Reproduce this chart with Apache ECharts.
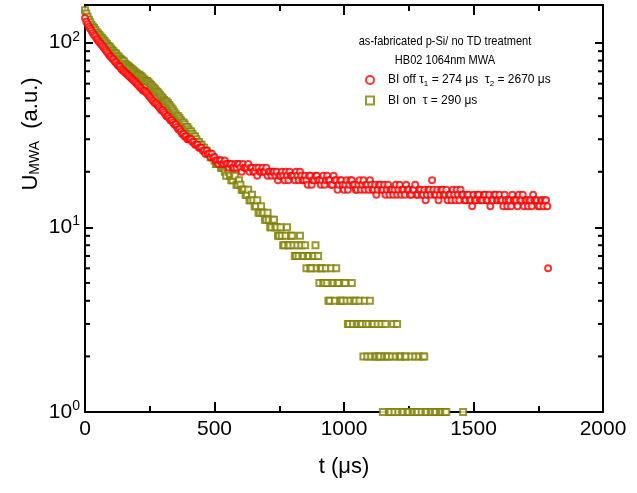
<!DOCTYPE html>
<html>
<head>
<meta charset="utf-8">
<script src="https://cdn.jsdelivr.net/npm/echarts/dist/echarts.min.js"></script>
<style>
html,body{margin:0;padding:0;background:#fff;}
#chart{width:637px;height:493px;}
</style>
</head>
<body>
<div id="chart"></div>
<script>
// ---- data ----
const tStep = 10;   // μs between samples within one array
const tOffsetB = 5; // the "B" arrays are the interleaved samples at t = 5 + i*tStep
// BI on (olive squares), sample i at t = i*tStep
const biOnValues = [
150,138,129,122,117,112,108,104,100,96,
93,90,87,84,81,79,76,74,72,70,
68,67,65,63,62,60,58,56,54,52,
50,48,47,45,43,41,40,38,37,35,
34,33,31,30,29,28,27,26,25,24,
23,22,23,21,20,21,19,18,19,17,
17,16,15,16,14,14,13,12,13,12,
11,11,10,11,10,9,9,8,10,8,
9,7,8,9,7,8,7,6,7,8,
7,6,5,6,4,6,5,6,5,4,
5,4,3,5,4,3,4,3,4,2,
4,3,2,3,2,1,3,2,1,3,
2,1,2,1,2,1,2,1,1,2,
1,2,1,null,1,1,null,1,1,1,
null,null,null,null,null,null,1
];
// BI on, interleaved samples at t = 5 + i*tStep
const biOnValuesB = [
144,133,125,120,114,110,106,102,98,95,
91,88,85,82,80,77,75,73,71,69,
67,66,64,62,61,59,57,55,53,51,
49,48,46,44,42,40,39,37,36,35,
33,32,31,29,28,27,26,25,24,24,
22,22,21,21,19,20,18,19,17,18,
16,16,15,14,15,13,14,12,12,11,
12,10,11,10,9,10,8,9,8,9,
8,7,7,8,7,6,7,6,7,6,
5,6,5,5,4,5,4,5,4,4,
5,3,4,3,4,3,3,2,3,3,
2,3,2,2,3,2,2,1,2,1,
3,2,1,2,1,null,1,2,1,null,
2,1,null,1,null,1,null,1,null,1
];
// BI off (red circles), sample i at t = i*tStep
const biOffValues = [
136,126,119,113,108,103,99,95,91,87,
84,81,78,75,72,70,68,66,64,62,
60,58,56,55,53,51,49,47,46,44,
43,41,40,38,37,36,34,33,32,31,
30,30,29,28,27,27,26,26,25,25,
24,23,23,22,23,22,22,21,22,22,
21,22,21,22,21,20,21,21,20,20,
21,20,19,20,20,19,20,18,19,20,
19,18,19,20,18,19,17,19,18,19,
18,17,19,18,18,17,19,18,17,18,
16,18,17,18,17,16,18,17,16,17,
18,16,17,16,17,16,15,17,16,15,
17,16,15,16,17,16,15,16,15,16,
15,16,15,16,18,15,16,15,16,15,
14,15,16,14,15,16,15,14,15,14,
15,14,15,14,15,14,15,14,15,14,
15,14,15,13,14,15,14,13,14,15,
14,13,14,15,14,13,14,13,14
];
// BI off, interleaved samples at t = 5 + i*tStep
const biOffValuesB = [
130,122,116,110,105,101,97,93,89,85,
82,79,76,74,71,69,67,65,63,61,
59,57,55,54,52,50,48,47,45,43,
42,40,39,38,36,35,34,32,31,30,
30,29,28,28,27,26,25,25,24,24,
23,22,23,22,22,21,22,21,21,22,
20,21,21,20,21,20,19,20,21,20,
19,20,20,19,18,19,19,20,18,19,
19,20,18,19,18,18,19,17,18,19,
18,18,17,19,18,17,18,16,18,17,
17,16,18,17,16,17,16,18,17,16,
17,16,15,17,16,17,16,15,16,16,
15,17,16,15,16,15,16,17,15,16,
15,14,16,15,16,15,14,16,15,16,
15,14,15,16,14,15,14,15,14,13,
14,15,14,14,15,14,13,14,15,14,
14,13,14,14,13,14,14,15,14,13,
14,14,13,14,14,13,14,14,13
];
const biOffOutlier = [1788, 6];
const xTicks = [0, 500, 1000, 1500, 2000];
const yMinorTicks = [2,3,4,5,6,7,8,9,20,30,40,50,60,70,80,90];
const xMin = 0, xMax = 2000, yMin = 1, yMax = 160;

// ---- build ----
function toPoints(vals, offset){
  return vals.map((v,i)=>[offset + i*tStep, v]).filter(d=>d[1]!=null);
}
const onData = toPoints(biOnValues, 0).concat(toPoints(biOnValuesB, tOffsetB)).sort((a,b)=>a[0]-b[0]);
const offData = toPoints(biOffValues, 0).concat(toPoints(biOffValuesB, tOffsetB)).sort((a,b)=>a[0]-b[0]);
offData.push(biOffOutlier);

const font = 'Liberation Sans, Arial, sans-serif';

const chart = echarts.init(document.getElementById('chart'), null, {renderer:'canvas'});

function powLabel(v){
  const e = Math.log10(v);
  if (Math.abs(e - Math.round(e)) > 1e-6) return '';
  return '{b|10}{s|' + Math.round(e) + '}';
}

const axisLineStyle = {color:'#000', width:2};

const option = {
  backgroundColor:'#fff',
  animation:false,
  grid:{left:85, right:34, top:5, bottom:81, containLabel:false},
  xAxis:[{
    type:'value', min:xMin, max:xMax, interval:500, position:'bottom',
    axisLine:{show:true, onZero:false, lineStyle:axisLineStyle},
    axisTick:{show:true, inside:true, length:10, lineStyle:{color:'#000', width:2}},
    minorTick:{show:true, splitNumber:2, length:6, lineStyle:{color:'#000', width:2}},
    splitLine:{show:false},
    axisLabel:{show:true, margin:7, fontFamily:font, fontSize:21, color:'#000',
      formatter:v=> xTicks.indexOf(v)>=0 ? String(v) : ''}
  },{
    type:'value', min:xMin, max:xMax, interval:500, position:'top',
    axisLine:{show:true, onZero:false, lineStyle:axisLineStyle},
    axisTick:{show:true, inside:true, length:10, lineStyle:{color:'#000', width:2}},
    minorTick:{show:true, splitNumber:2, length:6, lineStyle:{color:'#000', width:2}},
    splitLine:{show:false}, axisLabel:{show:false}
  }],
  yAxis:[{
    type:'log', logBase:10, min:yMin, max:yMax, position:'left',
    axisLine:{show:true, onZero:false, lineStyle:axisLineStyle},
    axisTick:{show:true, inside:true, length:8, lineStyle:{color:'#000', width:2}},
    splitLine:{show:false},
    axisLabel:{show:true, margin:5, color:'#000', formatter:powLabel,
      rich:{
        b:{fontFamily:font, fontSize:21, color:'#000'},
        s:{fontFamily:font, fontSize:14, color:'#000', padding:[0,0,12,0]}
      }}
  },{
    type:'log', logBase:10, min:yMin, max:yMax, position:'right',
    axisLine:{show:true, onZero:false, lineStyle:axisLineStyle},
    axisTick:{show:true, inside:true, length:8, lineStyle:{color:'#000', width:2}},
    splitLine:{show:false}, axisLabel:{show:false}
  }],
  legend:{
    orient:'vertical', left:360, top:69, itemGap:7, itemWidth:8, itemHeight:8,
    data:['BI off','BI on'],
    textStyle:{fontFamily:font, fontSize:12, color:'#000',
      rich:{
        g:{width:9},
        t:{fontFamily:font, fontSize:12, color:'#000'},
        sub:{fontFamily:font, fontSize:8, color:'#000', padding:[7,0,0,0]}
      }},
    formatter:function(name){
      if(name==='BI off') return '{g| }{t|BI off τ}{sub|1}{t| = 274 μs  τ}{sub|2}{t| = 2670 μs}';
      return '{g| }{t|BI on  τ = 290 μs}';
    }
  },
  graphic:[
    {type:'text', x:445, y:41, scaleX:0.85, style:{text:'as-fabricated p-Si/ no TD treatment', fontFamily:font, fontSize:13, fill:'#000', textAlign:'center', textVerticalAlign:'middle'}},
    {type:'text', x:445, y:60, scaleX:0.85, style:{text:'HB02 1064nm MWA', fontFamily:font, fontSize:13, fill:'#000', textAlign:'center', textVerticalAlign:'middle'}},
    {type:'text', x:344, y:467, style:{text:'t (μs)', fontFamily:font, fontSize:22, fill:'#000', textAlign:'center', textVerticalAlign:'middle'}},
    {type:'text', x:31, y:134, rotation:Math.PI/2, style:{
      text:'{a|U}{b|MWA}{a|  (a.u.)}', textAlign:'center', textVerticalAlign:'middle',
      rich:{
        a:{fontFamily:font, fontSize:22, fill:'#000'},
        b:{fontFamily:font, fontSize:14, fill:'#000', padding:[9,0,0,0]}
      }}}
  ],
  series:[
    {
      name:'yticks', type:'custom', xAxisIndex:0, yAxisIndex:0, silent:true, clip:false,
      data: yMinorTicks.map(v=>[xMin, v]),
      encode:{x:0, y:1},
      renderItem:function(params, api){
        const v = api.value(1);
        const pL = api.coord([xMin, v]);
        const pR = api.coord([xMax, v]);
        return {type:'group', children:[
          {type:'line', shape:{x1:pL[0], y1:pL[1], x2:pL[0]+5, y2:pL[1]}, style:{stroke:'#000', lineWidth:2}},
          {type:'line', shape:{x1:pR[0], y1:pR[1], x2:pR[0]-5, y2:pR[1]}, style:{stroke:'#000', lineWidth:2}}
        ]};
      }
    },
    {
      name:'BI on', type:'scatter', xAxisIndex:0, yAxisIndex:0,
      data:onData, symbol:'emptyRect', symbolSize:6,
      itemStyle:{color:'#808000', borderColor:'#808000', borderWidth:2},
      z:2
    },
    {
      name:'BI off', type:'scatter', xAxisIndex:0, yAxisIndex:0,
      data:offData, symbol:'emptyCircle', symbolSize:6,
      itemStyle:{color:'#ff0000', borderColor:'#ff0000', borderWidth:1.5},
      z:3
    }
  ]
};
chart.setOption(option);
</script>
</body>
</html>
